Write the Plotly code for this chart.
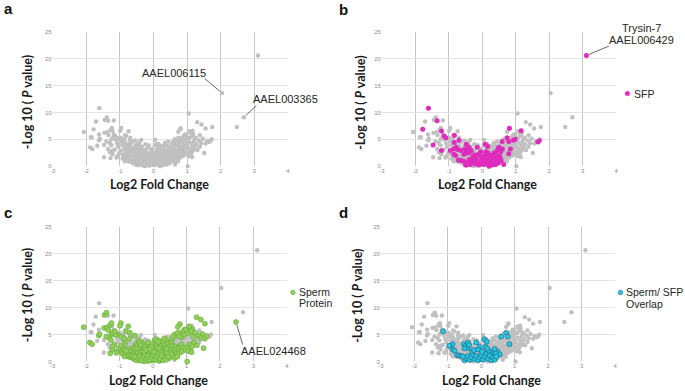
import plotly.graph_objects as go

W, H = 685, 391

# ---------------- data ----------------
x_ticks = [-3, -2, -1, 0, 1, 2, 3, 4]
y_ticks = [0, 5, 10, 15, 20, 25]
x_title = "Log2 Fold Change"
y_title = "-Log 10 ( <i>P</i> value)"
panel_letters = ["a", "b", "c", "d"]

# proteins that are neither SFP nor sperm protein (log2 FC, -log10 P)
other_pts = [
    (2.04, 13.6), (2.69, 9.1), (1.05, 9.8), (1.75, 7.3), (-1.71, 8.3), (-1.18, 8.5),
    (-1.84, 5.4), (-1.62, 5.9), (-1.67, 3.8), (-1.47, 1.65), (1.23, 5.1), (1.38, 5.75),
    (1.73, 5.0), (1.21, 3.2), (0.54, 4.1), (-1.86, 5.4),
    (-1.18, 5.9), (-1.08, 4.2), (-1.05, 3.6), (-0.98, 5.3), (-0.93, 3.9), (-0.97, 2.9),
    (-0.88, 5.0), (-0.82, 2.7), (-0.77, 4.0), (-0.75, 3.1), (-0.68, 3.6), (-0.66, 2.8),
    (-0.62, 4.6), (-0.79, 3.3), (-0.59, 3.3), (-0.53, 3.9), (-0.41, 4.5), (-0.36, 4.9),
    (-0.24, 4.1), (-0.14, 3.9), (0.05, 4.9), (0.14, 4.2), (0.44, 4.6), (0.62, 3.4),
    (0.66, 4.3), (0.70, 3.8), (0.75, 3.2), (0.78, 4.0), (0.83, 3.5), (0.87, 3.0),
    (0.91, 3.9), (0.95, 3.3), (0.99, 4.2), (1.02, 3.6), (1.08, 4.4), (1.16, 3.9),
    (1.28, 4.1), (1.38, 3.6), (-0.56, 0.9), (-0.20, 0.3), (0.28, 0.2), (-0.87, 2.2),
    (-0.30, 1.9), (-1.30, 2.6), (-1.35, 3.2),
]

# sperm proteins that are not SFPs
sperm_pts = [
    (2.48, 7.3), (-1.45, 8.6), (-1.39, 9.05), (-2.07, 6.35), (-1.46, 6.2), (-1.37, 6.3),
    (-1.28, 6.75), (-1.24, 7.1), (-0.96, 7.1), (-1.89, 3.5), (-1.82, 3.2), (-1.62, 4.8),
    (-1.60, 5.1), (-1.25, 5.0), (-1.20, 5.3), (-1.28, 1.5), (-1.07, 1.8), (1.30, 8.2),
    (1.43, 7.75), (1.55, 7.0), (0.80, 6.9), (0.74, 6.4), (1.11, 6.2), (1.18, 6.0),
    (1.08, 6.5), (1.55, 4.2), (1.51, 2.45), (1.02, 0.0), (0.64, 5.0), (0.94, 5.9),
    (1.00, 5.4), (-0.74, 6.5), (-0.81, 5.6), (-0.69, 5.3), (-1.06, 5.0), (-1.30, 4.3),
    (-1.40, 4.6), (-1.34, 5.8), (-1.22, 2.2), (1.60, 4.7), (1.47, 5.1), (1.35, 4.8),
    (-1.12, 4.9), (-1.15, 3.1), (-1.02, 2.4), (-0.95, 4.6), (-0.91, 2.1), (-1.10, 1.6),
    (-1.21, 2.8), (-1.25, 3.9), (-0.99, 6.6), (-0.92, 1.4),
    (-0.86, 4.3), (-0.84, 3.5), (-0.80, 1.9), (-0.78, 1.2), (-0.73, 2.3), (-0.71, 1.5),
    (-0.70, 0.8), (-0.65, 2.0), (-0.63, 1.1), (-0.83, 1.6), (-0.69, 4.2), (-0.61, 0.6),
    (-0.74, 0.9), (-0.85, 0.9),
    (-0.58, 2.5), (-0.57, 1.7), (-0.55, 0.4), (-0.52, 2.9), (-0.51, 2.1), (-0.50, 1.3),
    (-0.49, 0.6), (-0.47, 3.4), (-0.46, 2.4), (-0.45, 1.6), (-0.44, 0.9), (-0.43, 0.2),
    (-0.40, 2.9), (-0.39, 2.0), (-0.37, 0.5), (-0.35, 3.6), (-0.34, 2.6), (-0.33, 1.7),
    (-0.32, 0.8), (-0.31, 0.1), (-0.54, 4.8), (-0.42, 3.9),
    (-0.29, 3.1), (-0.28, 2.2), (-0.27, 1.4), (-0.26, 0.6), (-0.25, 0.0), (-0.23, 2.7),
    (-0.22, 1.8), (-0.21, 1.0), (-0.18, 3.4), (-0.17, 2.3), (-0.16, 1.5), (-0.15, 0.7),
    (-0.13, 0.1), (-0.12, 2.0), (-0.11, 1.2), (-0.10, 0.4), (-0.08, 2.8), (-0.07, 1.7),
    (-0.06, 0.9), (-0.05, 0.2), (-0.03, 2.3), (-0.02, 1.4), (-0.01, 0.5), (-0.04, 3.2),
    (0.01, 1.9), (0.02, 1.0), (0.03, 0.2), (0.06, 2.5), (0.07, 1.5), (0.08, 0.6),
    (0.10, 3.1), (0.11, 2.0), (0.12, 1.1), (0.13, 0.3), (0.15, 2.7), (0.16, 1.6),
    (0.17, 0.8), (0.18, 0.1), (0.20, 3.4), (0.21, 2.2), (0.22, 1.3), (0.23, 0.5),
    (0.25, 2.9), (0.26, 1.8), (0.27, 0.9), (0.04, 3.9), (0.24, 3.8),
    (0.30, 3.6), (0.31, 2.4), (0.32, 1.5), (0.33, 0.7), (0.35, 3.0), (0.36, 2.0),
    (0.37, 1.1), (0.38, 0.4), (0.40, 3.9), (0.41, 2.6), (0.42, 1.7), (0.43, 0.9),
    (0.45, 3.3), (0.46, 2.2), (0.47, 1.3), (0.48, 0.6), (0.50, 2.8), (0.51, 1.8),
    (0.52, 1.0), (0.54, 3.6), (0.55, 2.4), (0.56, 1.5), (0.58, 4.1), (0.59, 2.9),
    (0.60, 1.9), (0.34, 4.3),
    (0.63, 2.3), (0.64, 1.3), (0.67, 2.8), (0.68, 1.8), (0.71, 2.5), (0.72, 1.5),
    (0.74, 4.8), (0.76, 2.1), (0.79, 2.7), (0.80, 1.6), (0.82, 5.2), (0.84, 2.3),
    (0.86, 4.5), (0.88, 1.9), (0.90, 5.6), (0.92, 2.6), (0.94, 4.9), (0.97, 2.2),
    (0.98, 5.9), (0.65, 0.7), (0.73, 0.9),
    (1.04, 2.7), (1.06, 5.2), (1.10, 3.2), (1.12, 2.4), (1.14, 5.6), (1.18, 2.9),
    (1.20, 4.6), (1.23, 3.5), (1.26, 5.3), (1.31, 3.0), (1.42, 4.3), (1.05, 1.9),
    (1.15, 1.7),
]

# SFPs that are not sperm proteins
sfp_pts = [
    (3.11, 20.6), (-1.61, 10.8), (-1.35, 8.45), (-1.78, 6.85), (-1.22, 6.55), (-1.09, 5.3),
    (-1.47, 3.95), (-1.22, 2.9), (-0.84, 5.75), (-0.70, 4.8), (-0.84, 4.4), (-0.48, 4.1),
    (0.81, 7.05), (1.16, 6.6), (0.93, 4.8), (0.98, 5.0), (1.66, 4.5), (1.70, 4.75),
    (0.79, 2.3), (0.46, 3.0), (0.50, 3.5), (0.55, 2.7), (0.64, 0.3), (-0.78, 3.5),
    (-0.73, 3.1), (-0.64, 2.9),
    (-0.55, 2.2), (-0.42, 2.5), (-0.33, 2.8), (-0.27, 1.0), (-0.20, 1.5), (-0.17, 0.7),
    (-0.13, 2.1), (-0.07, 0.4), (-0.03, 1.6), (0.00, 0.8), (0.06, 1.3), (0.09, 0.5),
    (0.12, 1.9), (0.24, 0.7), (0.27, 2.0), (0.33, 0.4), (0.36, 1.6), (0.42, 2.1),
    (0.48, 0.6), (0.52, 1.8), (0.56, 1.0), (0.10, 2.6), (0.36, 2.5), (-0.47, 0.2),
    (0.20, 0.0), (-0.38, 1.3), (0.60, 3.2), (0.47, 3.3),
]

# proteins that are both sperm proteins and SFPs
overlap_pts = [
    (-1.14, 5.6), (-0.86, 3.2), (-0.96, 2.9), (-0.85, 2.2), (-0.80, 2.0), (-0.72, 1.15),
    (-0.66, 1.1), (-0.60, 1.0), (-0.52, 3.2), (-0.46, 2.9), (-0.42, 2.5), (-0.50, 2.4),
    (-0.40, 3.5), (-0.36, 3.0), (-0.15, 3.5), (-0.05, 2.7), (-0.10, 2.2), (0.09, 4.1),
    (0.16, 3.65), (0.12, 2.7), (0.59, 4.6), (0.74, 5.3), (0.79, 4.6), (0.84, 3.2),
    (0.49, 1.8), (0.55, 1.3), (0.30, 1.6), (0.38, 1.8), (0.43, 1.5),
    (-0.50, 0.2), (-0.45, 0.6), (-0.40, 1.0), (-0.35, 0.3), (-0.30, 0.8), (-0.25, 1.3),
    (-0.20, 0.4), (-0.15, 1.0), (-0.10, 0.2), (-0.05, 0.7), (0.00, 1.2), (0.05, 0.3),
    (0.10, 0.9), (0.15, 1.5), (0.20, 0.5), (0.25, 1.1), (0.30, 0.2), (0.35, 0.7),
    (0.40, 0.3), (0.45, 0.9), (-0.55, 0.9), (-0.28, 1.9), (0.02, 1.8), (0.22, 2.0),
    (0.18, 2.4), (-0.22, 2.1), (0.40, 2.3),
]

all_pts = other_pts + sperm_pts + sfp_pts + overlap_pts


def xs(p):
    return [a for a, _ in p]


def ys(p):
    return [b for _, b in p]


# ---------------- layout helpers ----------------
def px(x):
    return x / W


def py(y):
    return 1 - y / H


# plot-area boxes in pixels: left, top, right, bottom
boxes = {
    1: (50.0, 29.3, 287.0, 165.7),
    2: (381.7, 29.3, 617.7, 165.7),
    3: (50.0, 227.0, 286.0, 364.0),
    4: (380.7, 227.0, 616.7, 364.0),
}

GRAY = "#c0c0c0"
fig = go.Figure()

highlight = {
    2: (sfp_pts + overlap_pts, dict(color="#e02cbc", size=5, line=dict(width=0))),
    3: (sperm_pts + overlap_pts, dict(color="#8fcf5a", size=5, line=dict(width=0.6, color="#6aaa3c"))),
    4: (overlap_pts, dict(color="#27c6df", size=5, line=dict(width=0.7, color="#1d6d8f"))),
}

for i in range(1, 5):
    sfx = "" if i == 1 else str(i)
    fig.add_trace(go.Scatter(
        x=xs(all_pts), y=ys(all_pts), mode="markers",
        marker=dict(color=GRAY, size=4.4, line=dict(width=0)),
        xaxis="x" + sfx, yaxis="y" + sfx, cliponaxis=False, showlegend=False,
        hoverinfo="skip"))
    if i in highlight:
        pts, mk = highlight[i]
        fig.add_trace(go.Scatter(
            x=xs(pts), y=ys(pts), mode="markers", marker=mk,
            xaxis="x" + sfx, yaxis="y" + sfx, cliponaxis=False, showlegend=False,
            hoverinfo="skip"))

layout = dict(
    width=W, height=H, margin=dict(l=0, r=0, t=0, b=0),
    paper_bgcolor="white", plot_bgcolor="white", showlegend=False,
)
tickfont = dict(family="Liberation Sans, Arial, sans-serif", size=6, color="#8c8c8c")
for i, (l, t, r, b) in boxes.items():
    sfx = "" if i == 1 else str(i)
    layout["xaxis" + sfx] = dict(
        domain=[px(l), px(r)], anchor="y" + sfx, range=[x_ticks[0], x_ticks[-1]],
        tickvals=x_ticks, ticktext=[str(v) for v in x_ticks], showgrid=True,
        gridcolor="#c6c6c6", gridwidth=1, zeroline=False, showline=False,
        tickfont=tickfont, ticks="", fixedrange=True)
    layout["yaxis" + sfx] = dict(
        domain=[py(b), py(t)], anchor="x" + sfx, range=[y_ticks[0], y_ticks[-1]],
        tickvals=y_ticks, ticktext=[str(v) for v in y_ticks], showgrid=True,
        gridcolor="#e3e3e3", gridwidth=1, zeroline=False, showline=False,
        tickfont=tickfont, ticks="", fixedrange=True)

annotations = []
title_font = dict(family="Lato, Carlito, sans-serif", size=12.5, color="#1a1a1a")
xt_pos = {1: (158, 184), 2: (488, 184), 3: (157, 383), 4: (492, 383)}
yt_pos = {1: (25, 101), 2: (360, 101), 3: (25, 297), 4: (357, 297)}
letter_pos = {1: (6, 6), 2: (343, 7), 3: (5, 213), 4: (343, 213)}
for i in range(1, 5):
    annotations.append(dict(text="<b>" + x_title + "</b>", x=px(xt_pos[i][0]), y=py(xt_pos[i][1]),
                            xref="paper", yref="paper", showarrow=False, font=title_font,
                            xanchor="center", yanchor="middle"))
    annotations.append(dict(text="<b>" + y_title + "</b>", x=px(yt_pos[i][0]), y=py(yt_pos[i][1]),
                            xref="paper", yref="paper", showarrow=False, font=title_font,
                            textangle=-90, xanchor="center", yanchor="middle"))
    annotations.append(dict(text="<b>" + panel_letters[i - 1] + "</b>",
                            x=px(letter_pos[i][0]), y=py(letter_pos[i][1]),
                            xref="paper", yref="paper", showarrow=False,
                            font=dict(family="Liberation Sans, Arial, sans-serif", size=15, color="#111"),
                            xanchor="center", yanchor="middle"))

lab_font = dict(family="Liberation Sans, Arial, sans-serif", size=11, color="#262626")
leg_font = dict(family="Liberation Sans, Arial, sans-serif", size=10.5, color="#262626")


def label(text, x, y, xanchor="center", font=lab_font):
    annotations.append(dict(text=text, x=px(x), y=py(y), xref="paper", yref="paper",
                            showarrow=False, font=font, xanchor=xanchor, yanchor="middle"))


def leader(pt, sfx, ax, ay):
    annotations.append(dict(text="", x=pt[0], y=pt[1], xref="x" + sfx, yref="y" + sfx,
                            showarrow=True, arrowhead=0, arrowwidth=0.8, arrowcolor="#404040",
                            ax=ax, ay=ay, standoff=3))


# gene labels
leader(other_pts[0], "", -19, -16)
label("AAEL006115", 172, 71)
leader(other_pts[1], "", 14, -13)
label("AAEL003365", 285, 97)
leader(sfp_pts[0], "2", 24, -10)
label("Trysin-7", 643, 25)
label("AAEL006429", 643, 38)
leader(sperm_pts[0], "3", 7, 24)
label("AAEL024468", 272, 353)

# legends
shapes = []


def dot(x, y, fill, line):
    r = 2.3
    shapes.append(dict(type="circle", xref="paper", yref="paper",
                       x0=px(x - r), x1=px(x + r), y0=py(y + r), y1=py(y - r),
                       fillcolor=fill, line=dict(color=line, width=0.6)))


dot(629, 92, "#e02cbc", "#e02cbc")
label("SFP", 634, 92, "left", leg_font)
dot(292, 294, "#8fcf5a", "#6aaa3c")
label("Sperm", 296, 293, "left", leg_font)
label("Protein", 296, 305, "left", leg_font)
dot(622, 294, "#27c6df", "#1d6d8f")
label("Sperm/ SFP", 625.5, 294, "left", leg_font)
label("Overlap", 625.5, 306, "left", leg_font)

layout["annotations"] = annotations
layout["shapes"] = shapes
fig.update_layout(**layout)
fig.write_html("out.html", config={"displayModeBar": False},
               post_script="document.body.style.margin='0px';document.body.style.overflow='hidden';")
